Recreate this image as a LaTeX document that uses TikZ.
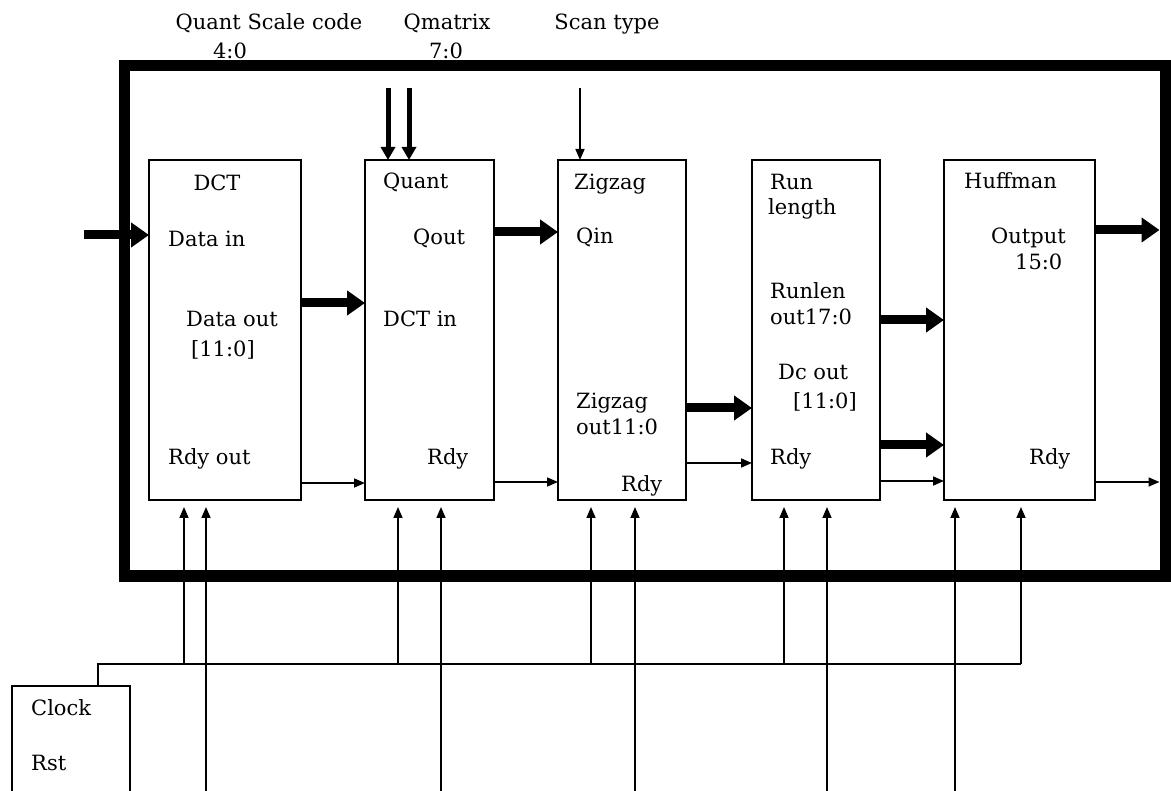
\documentclass[tikz,border=0pt]{standalone}
\usepackage{fontspec}
\setmainfont{DejaVu Serif}
\usetikzlibrary{arrows.meta}
\begin{document}
\begin{tikzpicture}[x=1pt,y=-1pt,
  blk/.style={draw, line width=1.4pt, inner sep=0pt, outer sep=0pt},
  lbl/.style={font=\fontsize{21}{25}\selectfont, inner sep=0pt, anchor=base west},
  ttl/.style={font=\fontsize{21}{25}\selectfont, inner sep=0pt, anchor=base},
  bigarr/.style={line width=9pt, -{Triangle[length=18pt,width=24pt]}},
  midarr/.style={line width=5pt, -{Triangle[length=13pt,width=14pt]}},
  thinarr/.style={line width=1.6pt, -{Triangle[length=11pt,width=9pt]}},
  wire/.style={line width=1.6pt}]
\useasboundingbox (0,0) rectangle (1171,791);
\begin{scope}
\clip (0,0) rectangle (1171,791);

% outer frame
\node[draw, line width=11pt, inner sep=0pt, minimum width=1041pt, minimum height=510pt] (frame) at (644.5,321) {};

% blocks
\node[blk, minimum width=152pt, minimum height=340pt] (dct) at (225,330) {};
\node[blk, minimum width=129pt, minimum height=340pt] (quant) at (429.5,330) {};
\node[blk, minimum width=128pt, minimum height=340pt] (zig) at (622,330) {};
\node[blk, minimum width=128pt, minimum height=340pt] (run) at (816,330) {};
\node[blk, minimum width=151pt, minimum height=340pt] (huff) at (1019.5,330) {};
\node[blk, minimum width=118pt, minimum height=130pt, anchor=north west] (clkbox) at (12,686) {};

% titles
\node[ttl] (tq) at (269,30) {Quant Scale code};
\node[ttl] (tq2) at (230,59) {4:0};
\node[ttl] (tm) at (447,30) {Qmatrix};
\node[ttl] (tm2) at (446,59) {7:0};
\node[ttl] (ts) at (607,30) {Scan type};

% labels
\node[ttl] (l1) at (217,191) {DCT};
\node[lbl] (l2) at (168,247) {Data in};
\node[lbl] (l3) at (186,327) {Data out};
\node[lbl] (l4) at (191,357) {[11:0]};
\node[lbl] (l5) at (168,465) {Rdy out};
\node[lbl] (l6) at (383,189) {Quant};
\node[lbl] (l7) at (413,245) {Qout};
\node[lbl] (l8) at (383,327) {DCT in};
\node[lbl] (l9) at (427,465) {Rdy};
\node[lbl] (l10) at (574,190) {Zigzag};
\node[lbl] (l11) at (576,244) {Qin};
\node[lbl] (l12) at (576,409) {Zigzag};
\node[lbl] (l13) at (576,435) {out11:0};
\node[lbl] (l14) at (621,492) {Rdy};
\node[lbl] (l15) at (770,190) {Run};
\node[lbl] (l16) at (768,215) {length};
\node[lbl] (l17) at (770,299) {Runlen};
\node[lbl] (l18) at (770,325) {out17:0};
\node[lbl] (l19) at (778,380) {Dc out};
\node[lbl] (l20) at (793,409) {[11:0]};
\node[lbl] (l21) at (770,465) {Rdy};
\node[lbl] (l22) at (964,189) {Huffman};
\node[lbl] (l23) at (991,244) {Output};
\node[lbl] (l24) at (1015,270) {15:0};
\node[lbl] (l25) at (1029,465) {Rdy};
\node[lbl] (l26) at (31,715) {Clock};
\node[lbl] (l27) at (31,770) {Rst};

% port coordinates
\coordinate (din) at (84,235);
\coordinate (qm1) at (388,88);
\coordinate (qm2) at (409,88);
\coordinate (sc) at (580,88);
\coordinate (outend) at (1159.5,230);
\coordinate (rdyend) at (1159.5,482);

% thick data arrows
\draw[bigarr] (din) -- (dct.west |- din);
\draw[bigarr] (dct.east |- 0,303) -- (quant.west |- 0,303);
\draw[bigarr] (quant.east |- 0,232) -- (zig.west |- 0,232);
\draw[bigarr] (zig.east |- 0,408) -- (run.west |- 0,408);
\draw[bigarr] (run.east |- 0,320) -- (huff.west |- 0,320);
\draw[bigarr] (run.east |- 0,445) -- (huff.west |- 0,445);
\draw[bigarr] (huff.east |- outend) -- (outend);

% top inputs
\draw[midarr] (qm1) -- (quant.north -| qm1);
\draw[midarr] (qm2) -- (quant.north -| qm2);
\draw[thinarr] (sc) -- (zig.north -| sc);

% ready chain
\draw[thinarr] (dct.east |- 0,483) -- (quant.west |- 0,483);
\draw[thinarr] (quant.east |- 0,482) -- (zig.west |- 0,482);
\draw[thinarr] (zig.east |- 0,463) -- (run.west |- 0,463);
\draw[thinarr] (run.east |- 0,481) -- (huff.west |- 0,481);
\draw[thinarr] (huff.east |- rdyend) -- (rdyend);

% clock bus
\coordinate (stub) at (98,686);
\coordinate (busL) at (98,664);
\coordinate (busR) at (1021,664);
\draw[wire] (stub) -- (busL) -- (busR);

% clock inputs (from bus)
\foreach \x/\n in {184/c1,398/c2,591/c3,784/c4,1021/c5}{
  \coordinate (\n b) at (\x,664);
  \coordinate (\n t) at (\x,507);
  \draw[thinarr] (\n b) -- (\n t);
}
% reset inputs (from bottom)
\foreach \x/\n in {206/r1,441/r2,635/r3,827/r4,955/r5}{
  \coordinate (\n b) at (\x,800);
  \coordinate (\n t) at (\x,507);
  \draw[thinarr] (\n b) -- (\n t);
}
\end{scope}
\end{tikzpicture}
\end{document}
